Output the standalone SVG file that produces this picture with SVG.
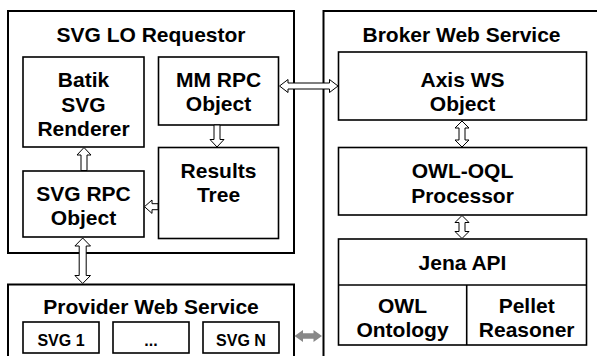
<svg xmlns="http://www.w3.org/2000/svg" width="597" height="356" viewBox="0 0 597 356">
<style>
.outer{fill:none;stroke:#000;stroke-width:2}
.box{fill:#fff;stroke:#000;stroke-width:1.6}
.t{font-family:"Liberation Sans",Arial,sans-serif;font-weight:bold;font-size:21px;text-anchor:middle;fill:#000}
.s{font-family:"Liberation Sans",Arial,sans-serif;font-weight:bold;font-size:16px;text-anchor:middle;fill:#000}
.ar{fill:#fff;stroke:#000;stroke-width:1}
.ga{fill:#888;stroke:none}
</style>
<rect width="597" height="356" fill="#fff"/>
<g id="requestor">
<rect class="outer" x="8" y="11" width="286" height="242"/>
<text class="t" x="151" y="42">SVG LO Requestor</text>
</g>
<g id="batik">
<rect class="box" x="23" y="57" width="121" height="90"/>
<text class="t" x="83.5" y="87">Batik</text>
<text class="t" x="83.5" y="111.5">SVG</text>
<text class="t" x="83.5" y="136">Renderer</text>
</g>
<g id="mmrpc">
<rect class="box" x="158.5" y="57" width="120" height="68"/>
<text class="t" x="218.5" y="87">MM RPC</text>
<text class="t" x="218.5" y="111">Object</text>
</g>
<g id="results">
<rect class="box" x="158.5" y="147.5" width="120" height="91"/>
<text class="t" x="218.5" y="177.5">Results</text>
<text class="t" x="218.5" y="202">Tree</text>
</g>
<g id="svgrpc">
<rect class="box" x="23" y="171" width="121" height="66"/>
<text class="t" x="83.5" y="200.5">SVG RPC</text>
<text class="t" x="83.5" y="224.5">Object</text>
</g>
<g id="provider">
<rect class="outer" x="8" y="284.5" width="286" height="80"/>
<text class="t" x="151" y="314">Provider Web Service</text>
</g>
<g id="svg1">
<rect class="box" x="23" y="322" width="76" height="31"/>
<text class="s" x="61" y="346">SVG 1</text>
</g>
<g id="dots">
<rect class="box" x="113" y="322" width="76" height="31"/>
<text class="s" x="151" y="346">...</text>
</g>
<g id="svgn">
<rect class="box" x="203" y="322" width="76" height="31"/>
<text class="s" x="241" y="346">SVG N</text>
</g>
<g id="broker">
<rect class="outer" x="323.5" y="11" width="290" height="360"/>
<text class="t" x="461.5" y="42">Broker Web Service</text>
</g>
<g id="axis">
<rect class="box" x="338.5" y="52" width="248" height="68"/>
<text class="t" x="462.5" y="87">Axis WS</text>
<text class="t" x="462.5" y="110.5">Object</text>
</g>
<g id="owloql">
<rect class="box" x="338.5" y="147.5" width="248" height="67.5"/>
<text class="t" x="462.5" y="178.3">OWL-OQL</text>
<text class="t" x="462.5" y="202.7">Processor</text>
</g>
<g id="jena">
<rect class="box" x="338.5" y="239" width="248" height="106"/>
<line x1="338.5" y1="285" x2="586.5" y2="285" stroke="#000" stroke-width="1.6"/>
<line x1="466.7" y1="285" x2="466.7" y2="345" stroke="#000" stroke-width="1.6"/>
<text class="t" x="462.5" y="270">Jena API</text>
</g>
<g id="owlontology">
<text class="t" x="402.5" y="313.3">OWL</text>
<text class="t" x="402.5" y="336.7">Ontology</text>
</g>
<g id="pellet">
<text class="t" x="526.7" y="313.3">Pellet</text>
<text class="t" x="526.7" y="336.7">Reasoner</text>
</g>
<g id="connectors">
<polygon class="ar" points="279.5,86 288,79.5 288,83 329.5,83 329.5,79.5 338,86 329.5,92.5 329.5,89 288,89 288,92.5"/>
<polygon class="ar" points="82.7,238 90.5,246 86.2,246 86.2,275.5 90.5,275.5 82.7,283.5 74.9,275.5 79.2,275.5 79.2,246 74.9,246"/>
<polygon class="ar" points="462,121 469,128 465,128 465,140 469,140 462,147 455,140 459,140 459,128 455,128"/>
<polygon class="ar" points="462,215.5 469,222.5 465,222.5 465,231.5 469,231.5 462,238.5 455,231.5 459,231.5 459,222.5 455,222.5"/>
<polygon class="ar" points="84,147.5 91,155 87,155 87,170.5 81,170.5 81,155 77,155"/>
<polygon class="ar" points="217,147 224,139.5 220,139.5 220,125 214,125 214,139.5 210,139.5"/>
<polygon class="ar" points="144.5,206.7 152,200 152,203.7 158,203.7 158,209.7 152,209.7 152,213.4"/>
<polygon class="ga" points="294.5,336 303,330 303,333.3 313.5,333.3 313.5,330 322,336 313.5,342 313.5,338.7 303,338.7 303,342"/>
</g>
</svg>
